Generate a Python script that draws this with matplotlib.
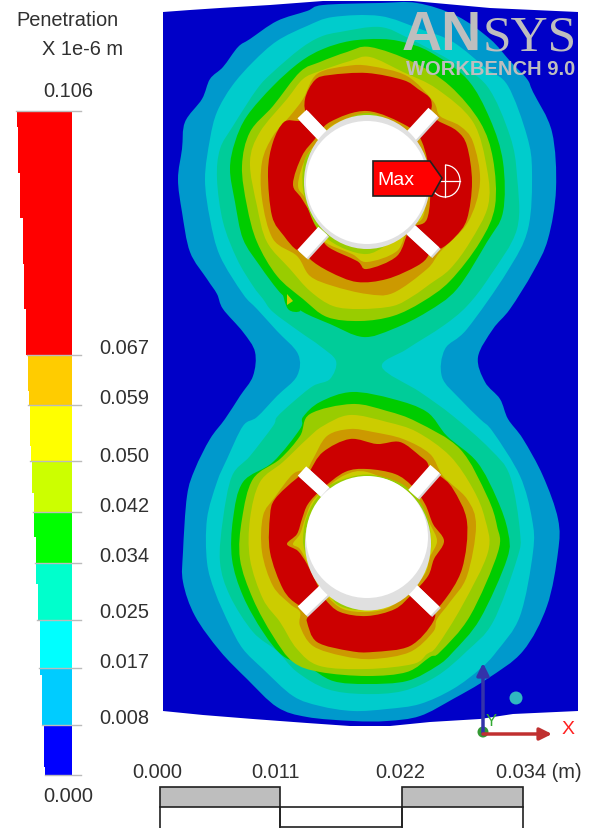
import matplotlib
matplotlib.use('Agg')
import matplotlib.pyplot as plt
from matplotlib.patches import Ellipse, Arc, Rectangle, PathPatch
from matplotlib.path import Path

plt.rcParams['font.family'] = ['Liberation Sans', 'DejaVu Sans']

# legend
legend_title = 'Penetration'
legend_unit = 'X 1e-6 m'
legend_labels = ['0.106', '0.067', '0.059', '0.050', '0.042', '0.034', '0.025', '0.017', '0.008', '0.000']
legend_label_y = [91, 348, 399, 456, 507, 557, 613, 662, 718, 797]
legend_levels = [112, 356, 406, 462, 513, 564, 621, 669, 726, 776]
legend_colors = ['#FF0000', '#FFCC00', '#FFFF00', '#CCFF00', '#00FF00', '#00FFCC', '#00FFFF', '#00CCFF', '#0000FF']
# the bar tapers in small steps: (top, bottom, left edge, colour index)
legend_steps = [(112, 128, 16.5, 0), (128, 174, 18, 0), (174, 219, 20, 0), (219, 265, 22.5, 0), (265, 310, 24, 0),
                (310, 356, 26, 0), (356, 392, 28, 1), (392, 406, 29, 1), (406, 447, 30, 2), (447, 462, 31, 2),
                (462, 494, 32, 3), (494, 513, 33.5, 3), (513, 538, 33.5, 4), (538, 564, 35.5, 4), (564, 585, 35.5, 5),
                (585, 621, 37.5, 5), (621, 669, 39.5, 6), (669, 676, 39.5, 7), (676, 726, 41.5, 7), (726, 768, 43.5, 8),
                (768, 776, 45, 8)]

# model colours
c_blue = '#0000C8'
c_1 = '#0099CC'
c_2 = '#00CCCC'
c_3 = '#00CC99'
c_4 = '#00CC00'
c_5 = '#99CC00'
c_6 = '#CCCC00'
c_7 = '#CC9900'
c_8 = '#CC0000'

plate = [(163,13),(190,11),(220,9),(270,6),(323,2),(413,2),(490,9),(578,13),(578,712),(513,715),(480,720),(430,723),
         (390,727),(350,727),(307,724),(253,720),(203,716),(163,712)]

band1 = [(380,4),(417,4),(457,17),(490,40),(510,62),(527,80),(533,93),(552,133),(556,190),(548,240),(533,273),(510,310),
         (493,330),(478,358),(485,383),(500,400),(508,420),(523,440),(543,477),(558,520),(558,553),(547,607),(523,652),
         (487,680),(453,700),(420,717),(387,722),(353,722),(307,718),(277,708),(247,680),(220,652),(195,617),(183,583),
         (183,553),(187,497),(195,470),(210,440),(225,420),(240,397),(253,377),(255,353),(243,333),(223,310),(217,295),
         (207,280),(190,253),(182,213),(178,180),(182,150),(185,123),(202,100),(210,80),(223,68),(238,48),(250,40),
         (277,22),(307,12),(323,6)]

band2 = [(380,17),(420,30),(453,43),(487,70),(508,87),(527,137),(532,173),(528,230),(507,273),(467,330),(445,350),
         (442,378),(460,400),(480,420),(493,433),(520,477),(532,520),(533,553),(520,617),(497,652),(480,670),(453,690),
         (420,705),(387,710),(353,712),(320,707),(293,697),(263,670),(243,650),(230,627),(215,593),(207,563),(207,520),
         (217,483),(227,460),(243,427),(257,418),(277,397),(297,377),(298,355),(277,332),(257,310),(243,295),(220,257),
         (210,220),(205,180),(210,140),(217,113),(232,87),(253,63),(277,42),(307,27),(333,18)]

band3 = [(380,28),(410,40),(453,63),(487,87),(510,137),(517,177),(517,230),(490,277),(467,307),(443,327),(407,350),
         (382,368),(420,393),(453,417),(490,450),(510,477),(520,533),(517,560),(493,623),(467,652),(437,677),(403,692),
         (363,695),(327,690),(297,673),(277,652),(253,633),(230,597),(220,563),(223,520),(232,477),(250,457),(273,427),
         (277,418),(293,403),(313,387),(330,380),(336,362),(320,347),(300,333),(273,313),(263,300),(253,287),(237,260),
         (223,223),(217,180),(220,150),(233,127),(257,90),(273,73),(300,50),(320,38),(340,33)]

# upper lobe, outer to inner
upper_4 = [(380,40),(403,43),(430,53),(467,80),(490,120),(503,163),(503,213),(487,243),(457,290),(427,313),(393,330),
           (363,338),(330,325),(303,313),(287,300),(277,290),(260,267),(243,240),(235,203),(230,170),(235,143),(247,117),
           (273,87),(300,63),(323,50),(350,42)]
upper_5 = [(370,48),(413,63),(450,87),(480,123),(493,160),(495,207),(480,243),(450,282),(422,303),(393,317),(360,322),
           (327,318),(303,300),(277,277),(257,243),(247,207),(242,167),(250,133),(273,107),(300,73),(320,63),(347,53)]
upper_6 = [(370,58),(403,73),(437,90),(473,123),(487,170),(488,207),(470,243),(450,270),(430,285),(413,297),(393,307),
           (360,310),(333,307),(310,292),(290,270),(267,243),(257,207),(250,163),(260,133),(287,100),(303,80),(320,72),(350,62)]
upper_7 = [(370,67),(407,77),(433,102),(440,117),(460,127),(473,143),(480,183),(468,223),(440,253),(427,270),(393,294),
           (367,295),(333,287),(310,277),(297,257),(273,240),(262,200),(262,163),(273,137),(290,117),(303,100),(317,75),(347,67)]
upper_red = [[(305,100),(315,81),(330,76),(367,74),(403,81),(418,90),(431,101),(428,118),(408,136),(368,150),(328,136),(308,118)],
             [(284,123),(273,143),(268,173),(272,217),(284,237),(297,251),(306,247),(322,232),(340,180),(322,137),(306,122),(298,122)],
             [(440,123),(457,132),(467,147),(472,183),(467,220),(455,238),(440,250),(432,247),(412,230),(400,180),(412,138),(428,118)],
             [(310,260),(330,273),(357,283),(387,280),(417,267),(428,257),(428,247),(412,232),(368,215),(323,232),(308,250)]]
upper_rim_7 = [(367,112),(407,127),(422,143),(430,180),(427,220),(410,230),(397,257),(367,270),(357,262),(327,247),
               (320,230),(302,200),(293,185),(302,157),(315,140),(330,123)]
upper_rim_6 = [(368,115),(405,130),(418,147),(427,180),(423,218),(408,228),(397,252),(367,263),(352,255),(325,243),
               (322,228),(306,200),(298,186),(306,158),(318,143),(333,126)]
upper_rim_5 = [(368,114),(404,131),(416,148),(424,180),(420,216),(406,230),(385,247),(367,255),(345,250),(325,238),
               (313,222),(303,190),(305,160),(318,145),(332,128)]

# lower lobe, outer to inner
lower_4 = [(352,393),(393,400),(427,413),(447,437),(477,463),(497,500),(508,533),(507,560),(480,620),(453,653),(437,667),
           (407,682),(367,685),(333,682),(307,667),(283,657),(263,633),(243,597),(232,560),(233,520),(243,483),(273,463),
           (300,430),(303,418),(320,403)]
lower_5 = [(352,405),(387,412),(417,423),(460,450),(487,497),(497,527),(498,553),(470,617),(440,653),(430,658),(407,673),
           (367,677),(320,673),(293,663),(273,637),(253,600),(240,560),(242,520),(253,480),(280,460),(300,437),(310,415)]
lower_6 = [(350,416),(387,423),(417,433),(450,457),(473,490),(485,520),(488,553),(462,607),(437,647),(427,655),(413,665),
           (367,670),(320,667),(297,650),(280,623),(263,600),(250,560),(250,520),(260,483),(283,463),(307,440),(323,427)]
lower_7 = [(350,430),(373,433),(403,440),(430,455),(443,477),(467,500),(476,527),(467,577),(450,603),(437,620),(433,633),
           (410,653),(373,660),(343,657),(313,647),(300,627),(300,613),(290,605),(273,587),(262,553),(263,517),(275,498),
           (293,475),(307,470),(313,460),(327,437)]
lower_red = [[(310,472),(323,453),(350,440),(377,445),(400,443),(420,457),(428,465),(428,478),(415,493),(367,510),(325,493),(308,478)],
             [(296,480),(275,500),(270,517),(270,553),(283,590),(297,605),(305,604),(325,590),(340,540),(325,493),(306,476)],
             [(440,477),(453,490),(467,523),(462,570),(443,603),(432,608),(410,588),(400,540),(415,495),(432,474)],
             [(308,617),(307,623),(317,643),(350,652),(373,653),(410,647),(433,623),(432,608),(410,590),(368,570),(325,592),(306,608)]]
lower_rim_7 = [(367,470),(395,475),(412,487),(425,505),(433,525),(444,542),(434,560),(428,577),(412,595),(395,610),
               (367,617),(340,613),(325,600),(317,585),(307,565),(298,552),(287,545),(297,535),(302,520),(308,505),(322,490),(345,473)]
lower_rim_6 = [(367,473),(405,490),(420,505),(430,525),(437,542),(430,558),(425,575),(410,590),(390,608),(367,613),
               (343,610),(327,597),(315,580),(308,565),(300,550),(293,545),(300,535),(305,520),(312,503),(325,490),(345,476)]
lower_rim_5 = [(367,475.5),(400,484),(418,500),(428,520),(431,540),(430,555),(422,578),(408,592),(368,610),(340,607),
               (327,592),(312,572),(305,553),(303,540),(306,520),(316,500),(334,484)]

# hub spokes (outer end, inner end), upper then lower
spokes = [((302,115),(323,137)), ((433,113),(410,138)), ((302,255),(323,232)), ((435,253),(410,230)),
          ((302,472),(325,493)), ((435,470),(413,495)), ((302,612),(325,590)), ((435,612),(410,588))]

scale_labels = ['0.000', '0.011', '0.022', '0.034 (m)']
scale_label_x = [157, 276, 400, 539]
scale_edges = [160, 280, 402, 523]


def band(pts, color, zorder=2):
    # closed curve through the read-off points
    n = len(pts)
    verts = [pts[0]]
    codes = [Path.MOVETO]
    for i in range(n):
        p0, p1, p2, p3 = pts[i - 1], pts[i], pts[(i + 1) % n], pts[(i + 2) % n]
        verts.append((p1[0] + (p2[0] - p0[0]) / 6, p1[1] + (p2[1] - p0[1]) / 6))
        verts.append((p2[0] - (p3[0] - p1[0]) / 6, p2[1] - (p3[1] - p1[1]) / 6))
        verts.append(p2)
        codes += [Path.CURVE4] * 3
    ax.add_patch(PathPatch(Path(verts, codes), facecolor=color, lw=0, zorder=zorder))


fig = plt.figure(figsize=(5.89, 8.29), dpi=100)
ax = fig.add_axes([0, 0, 1, 1])
ax.set_xlim(0, 589)
ax.set_ylim(829, 0)
ax.axis('off')

# legend bar
for top, bottom, left, i in legend_steps:
    ax.add_patch(Rectangle((left, top), 71.6 - left, bottom - top, color=legend_colors[i], lw=0))
for y, left in zip(legend_levels, [16, 27, 28, 30, 33, 35, 37, 39, 42, 45]):
    ax.plot([left, 81], [y, y], color='#BBBBBB', lw=1, zorder=3)

txt = '#303030'
ax.text(16, 20, legend_title, fontsize=14.4, color=txt, va='center')
ax.text(42, 49, legend_unit, fontsize=14.4, color=txt, va='center')
for i, lab in enumerate(legend_labels):
    if i == 0 or i == len(legend_labels) - 1:
        ax.text(43, legend_label_y[i], lab, fontsize=14.4, color=txt, va='center')
    else:
        ax.text(99, legend_label_y[i], lab, fontsize=14.4, color=txt, va='center')

# model
ax.fill([p[0] for p in plate], [p[1] for p in plate], color=c_blue, lw=0, zorder=1)
band(band1, c_1)
band(band2, c_2)
band(band3, c_3)
for lobe in [(upper_4, upper_5, upper_6, upper_7, upper_red, upper_rim_7, upper_rim_6, upper_rim_5),
             (lower_4, lower_5, lower_6, lower_7, lower_red, lower_rim_7, lower_rim_6, lower_rim_5)]:
    band(lobe[0], c_4)
    band(lobe[1], c_5)
    band(lobe[2], c_6)
    band(lobe[3], c_7)
    for sector in lobe[4]:
        band(sector, c_8)
    band(lobe[5], c_7)
    band(lobe[6], c_6)
    band(lobe[7], c_5)

# little spot under the upper lobe
band([(283,291),(296,300),(300,312),(288,310)], c_4)
ax.fill([287, 293, 287], [295, 302, 306], color=c_6, lw=0, zorder=3)

# spokes and holes
for a, b in spokes:
    ax.plot([a[0] + 1.5, b[0] + 1.5], [a[1] + 1.5, b[1] + 1.5], color='#D8D8D8', lw=9, solid_capstyle='butt', zorder=4)
    ax.plot([a[0], b[0]], [a[1], b[1]], color='white', lw=9, solid_capstyle='butt', zorder=4)
ax.add_patch(Ellipse((367, 183), 126, 134, color='#E0E0E0', lw=0, zorder=5))
ax.add_patch(Ellipse((367, 183.5), 122, 123, color='white', lw=0, zorder=5))
ax.add_patch(Ellipse((368, 544.5), 126, 134, color='#E0E0E0', lw=0, zorder=5))
ax.add_patch(Ellipse((367, 538), 122, 122, color='white', lw=0, zorder=5))

# max marker
ax.fill([373,430,442,432,373], [162,162,179,197,197], facecolor='#FF0000', edgecolor='#202020', lw=1.2, zorder=7)
ax.text(377, 180, 'Max', color='white', fontsize=14, va='center', zorder=8)
ax.add_patch(Arc((445, 182), 30, 32, theta1=-90, theta2=90, color='white', lw=0.9, zorder=6))
ax.add_patch(Arc((445, 182), 30, 32, theta1=90, theta2=135, color='white', lw=0.9, zorder=6))
ax.plot([445, 445], [166, 198], color='white', lw=0.9, zorder=6)
ax.plot([438, 460], [182, 182], color='white', lw=0.9, zorder=6)

# logo
logo = '#BEBEBE'
ax.text(402, 50, 'AN', color=logo, fontsize=40, fontweight='bold', va='baseline', zorder=9)
ax.text(483, 50, 'SYS', color=logo, fontsize=37, family='Liberation Serif', va='baseline', zorder=9)
ax.text(406, 75, 'WORKBENCH 9.0', color=logo, fontsize=14.5, fontweight='bold', va='baseline', zorder=9)

# triad
ax.annotate('', xy=(483, 664), xytext=(483, 735),
            arrowprops=dict(arrowstyle='-|>', color='#3333AA', lw=2.5, mutation_scale=18, shrinkA=0, shrinkB=0), zorder=9)
ax.annotate('', xy=(552, 735), xytext=(483, 735),
            arrowprops=dict(arrowstyle='-|>', color='#C03030', lw=2.5, mutation_scale=18, shrinkA=0, shrinkB=0), zorder=9)
ax.add_patch(Ellipse((483, 733), 11, 11, color='#339933', lw=0, zorder=8))
ax.add_patch(Ellipse((516, 699), 13, 13, color='#30B8C0', lw=0, zorder=9))
ax.text(491, 722, 'Y', color='#33AA33', fontsize=12, ha='center', va='center', zorder=9)
ax.text(568, 729, 'X', color='#FF2020', fontsize=14, ha='center', va='center', zorder=9)

# scale bar
for x, lab in zip(scale_label_x, scale_labels):
    ax.text(x, 773, lab, fontsize=14.4, color=txt, ha='center', va='center')
for i in range(3):
    x0, x1 = scale_edges[i], scale_edges[i + 1]
    if i == 1:
        ax.add_patch(Rectangle((x0, 808), x1 - x0, 20, facecolor='white', edgecolor='#202020', lw=1.2))
    else:
        ax.add_patch(Rectangle((x0, 788), x1 - x0, 20, facecolor='#BEBEBE', edgecolor='#202020', lw=1.2))
        ax.plot([x0, x0], [808, 829], color='#202020', lw=1.2)
        ax.plot([x1, x1], [808, 829], color='#202020', lw=1.2)

fig.savefig('out.png', dpi=100)
